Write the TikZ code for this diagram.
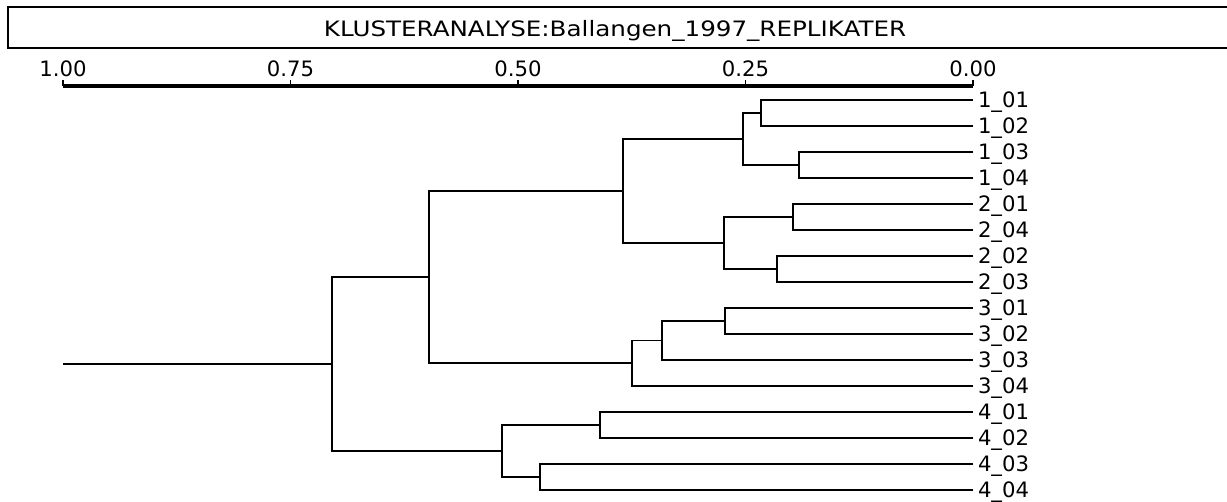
\documentclass[tikz,border=0pt]{standalone}
\usepackage{fontspec}
\usepackage{tikz}
\usetikzlibrary{positioning,calc}
\newfontfamily\titlefont[FakeStretch=1.16]{DejaVu Sans}
\newfontfamily\labelfont{DejaVu Sans}

\begin{document}
\begin{tikzpicture}[x=0.5pt, y=-0.5pt, node distance=0pt,
    frame/.style={line width=0.75pt},
    titletext/.style={font=\titlefont\fontsize{10.6}{12}\selectfont, inner sep=0pt, anchor=base},
    ticklabel/.style={font=\labelfont\fontsize{10.6}{12}\selectfont, inner sep=0pt, anchor=base},
    axisbar/.style={line width=2pt},
    tickmark/.style={line width=0.75pt},
    leaf/.style={font=\labelfont\fontsize{10.6}{12}\selectfont, text width=40pt, align=left, inner xsep=2.5pt, inner ysep=0pt, outer sep=0pt, text height=10.36pt, text depth=2.64pt},
    branch/.style={line width=0.75pt}]

    \useasboundingbox (0,0) rectangle (1227,502);

    % title bar
    \draw[frame] (1227,7) -- (8,7) -- (8,48) -- (1227,48);
    \node[titletext] (title) at (615,37) {KLUSTERANALYSE:Ballangen\_1997\_REPLIKATER};

    % scale
    \node[ticklabel] (t100) at (63,76.5) {1.00};
    \node[ticklabel] (t075) at (290.5,76.5) {0.75};
    \node[ticklabel] (t050) at (518,76.5) {0.50};
    \node[ticklabel] (t025) at (745.5,76.5) {0.25};
    \node[ticklabel] (t000) at (973,76.5) {0.00};
    \coordinate (ax0) at (63,86);
    \coordinate (ax1) at (973,86);
    \draw[axisbar] (ax0) -- (ax1);
    \draw[tickmark] (t100 |- ax0) -- ++(0,-6);
    \draw[tickmark] (t075 |- ax0) -- ++(0,-6);
    \draw[tickmark] (t050 |- ax0) -- ++(0,-6);
    \draw[tickmark] (t025 |- ax0) -- ++(0,-6);
    \draw[tickmark] (t000 |- ax0) -- ++(0,-6);

    % leaves
    \node[leaf, anchor=west] (l101) at (973,100) {1\_01};
    \node[leaf, below=of l101] (l102) {1\_02};
    \node[leaf, below=of l102] (l103) {1\_03};
    \node[leaf, below=of l103] (l104) {1\_04};
    \node[leaf, below=of l104] (l201) {2\_01};
    \node[leaf, below=of l201] (l204) {2\_04};
    \node[leaf, below=of l204] (l202) {2\_02};
    \node[leaf, below=of l202] (l203) {2\_03};
    \node[leaf, below=of l203] (l301) {3\_01};
    \node[leaf, below=of l301] (l302) {3\_02};
    \node[leaf, below=of l302] (l303) {3\_03};
    \node[leaf, below=of l303] (l304) {3\_04};
    \node[leaf, below=of l304] (l401) {4\_01};
    \node[leaf, below=of l401] (l402) {4\_02};
    \node[leaf, below=of l402] (l403) {4\_03};
    \node[leaf, below=of l403] (l404) {4\_04};

    % merge points
    \coordinate (a12) at (761,113);
    \coordinate (a34) at (799,165);
    \coordinate (g1) at (743,139);
    \coordinate (b14) at (793,217);
    \coordinate (b23) at (777,269);
    \coordinate (g2) at (724,243);
    \coordinate (g12) at (623,191);
    \coordinate (c12) at (725,321);
    \coordinate (c123) at (662,340.5);
    \coordinate (g3) at (632,363);
    \coordinate (g123) at (429,277);
    \coordinate (d12) at (600,425);
    \coordinate (d34) at (540,477);
    \coordinate (g4) at (502,451);
    \coordinate (root) at (332,364);
    \coordinate (rootend) at (63,364);

    \draw[branch] (l101.west) -| (a12) |- (l102.west);
    \draw[branch] (l103.west) -| (a34) |- (l104.west);
    \draw[branch] (a12) -| (g1) |- (a34);
    \draw[branch] (l201.west) -| (b14) |- (l204.west);
    \draw[branch] (l202.west) -| (b23) |- (l203.west);
    \draw[branch] (b14) -| (g2) |- (b23);
    \draw[branch] (g1) -| (g12) |- (g2);
    \draw[branch] (l301.west) -| (c12) |- (l302.west);
    \draw[branch] (c12) -| (c123) |- (l303.west);
    \draw[branch] (c123) -| (g3) |- (l304.west);
    \draw[branch] (g12) -| (g123) |- (g3);
    \draw[branch] (l401.west) -| (d12) |- (l402.west);
    \draw[branch] (l403.west) -| (d34) |- (l404.west);
    \draw[branch] (d12) -| (g4) |- (d34);
    \draw[branch] (g123) -| (root) |- (g4);
    \draw[branch] (rootend) -- (root);

\end{tikzpicture}
\end{document}
